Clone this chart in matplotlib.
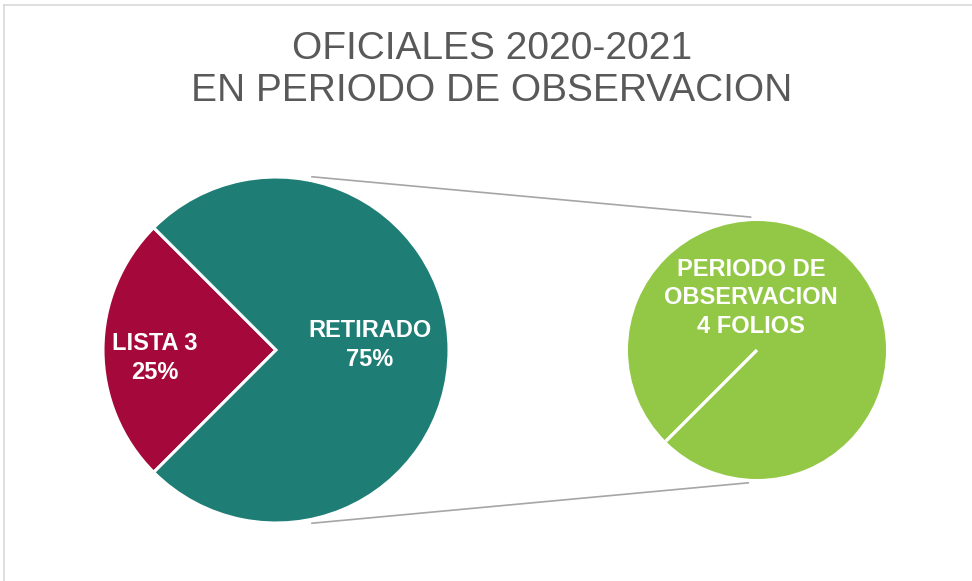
import numpy as np
import matplotlib
matplotlib.use('Agg')
import matplotlib.pyplot as plt
from matplotlib.lines import Line2D

plt.rcParams['font.family'] = ['Liberation Sans', 'DejaVu Sans']

title = 'OFICIALES 2020-2021\nEN PERIODO DE OBSERVACION'

# main pie
main_labels = ['LISTA 3', 'RETIRADO']
main_values = [25, 75]
main_colors = ['#A5093C', '#1E7D74']

# secondary pie
sub_labels = ['PERIODO DE\nOBSERVACION']
sub_values = [4]
sub_units = 'FOLIOS'
sub_colors = ['#93C846']

W, H = 972, 581
fig = plt.figure(figsize=(W / 100, H / 100), dpi=100)
ax = fig.add_axes([0, 0, 1, 1])

# layout (pixels, y measured from bottom)
c_main, r_main = (276, 231), 173
c_sub, r_sub = (757, 231), 129

pct = [v / sum(main_values) * 100 for v in main_values]
ax.pie(main_values, colors=main_colors, startangle=135,
       center=c_main, radius=r_main, frame=True,
       wedgeprops=dict(edgecolor='white', linewidth=2.2))

label_pos = [(155, 223), (370, 236)]
for (lx, ly), lab, p in zip(label_pos, main_labels, pct):
    ax.text(lx, ly, f'{lab}\n{p:.0f}%', color='white', fontsize=17,
            fontweight='bold', ha='center', va='center', linespacing=1.3)

sub_start = 225
ax.pie(sub_values, colors=sub_colors, startangle=sub_start,
       center=c_sub, radius=r_sub, frame=True,
       wedgeprops=dict(edgecolor='none'))

# slice border of the single slice
a = np.deg2rad(sub_start)
ax.plot([c_sub[0], c_sub[0] + r_sub * np.cos(a)],
        [c_sub[1], c_sub[1] + r_sub * np.sin(a)],
        color='white', linewidth=2.4, solid_capstyle='butt')

ax.text(751, 283, f'{sub_labels[0]}\n{sub_values[0]} {sub_units}',
        color='white', fontsize=17, fontweight='bold',
        ha='center', va='center', linespacing=1.3)

# connector lines between the pies
for a_main, a_sub in [(78, 92), (-78, -93)]:
    am, asb = np.deg2rad(a_main), np.deg2rad(a_sub)
    ax.plot([c_main[0] + r_main * np.cos(am), c_sub[0] + r_sub * np.cos(asb) - 2],
            [c_main[1] + r_main * np.sin(am) + 4 * np.sign(a_main),
             c_sub[1] + (r_sub + 4) * np.sin(asb)],
            color='#A6A6A6', linewidth=1.2, zorder=0)

ax.set_xlim(0, W)
ax.set_ylim(0, H)
ax.set_aspect('equal')
ax.axis('off')

fig.text(492 / W, 1 - 31 / H, title, ha='center', va='top',
         fontsize=28, color='#595959', linespacing=1.22)

# chart frame (only top and left edges visible)
fig.add_artist(Line2D([4 / W, 4 / W], [0, 1 - 5 / H], transform=fig.transFigure,
                      color='#D9D9D9', linewidth=1.2))
fig.add_artist(Line2D([4 / W, 1], [1 - 5 / H, 1 - 5 / H], transform=fig.transFigure,
                      color='#D9D9D9', linewidth=1.2))

fig.savefig('out.png', dpi=100, facecolor='white')
